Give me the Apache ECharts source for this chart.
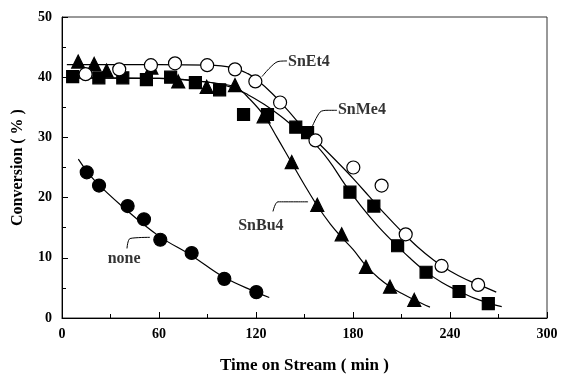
<!DOCTYPE html>
<html>
<head>
<meta charset="utf-8">
<script src="https://cdn.jsdelivr.net/npm/echarts@6/dist/echarts.min.js"></script>
<style>html,body{margin:0;padding:0;background:#fff;}#c{width:561px;height:379px;}</style>
</head>
<body>
<div id="c"></div>
<script>
// ---- data ----
const xTicks = [0, 60, 120, 180, 240, 300];
const yTicks = [0, 10, 20, 30, 40, 50];

const snEt4Points = [[14.6,40.5],[35.4,41.3],[55,42.0],[69.9,42.3],[89.8,42.0],[107,41.3],[119.6,39.3],[134.9,35.8],[156.8,29.5],[180.2,25.0],[197.7,22.0],[212.6,13.9],[234.8,8.65],[257.4,5.5]];
const snMe4Points = [[6.6,40.1],[22.8,39.9],[37.6,39.9],[52.2,39.6],[67.2,40.0],[82.5,39.1],[97.5,37.9],[112.3,33.8],[127.1,33.8],[144.6,31.7],[151.9,30.8],[178.1,20.9],[192.9,18.6],[207.6,12.0],[225.2,7.6],[245.6,4.4],[263.7,2.4]];
const snBu4Points = [[10,42.6],[19.9,42.2],[27.6,41.1],[55.3,41.6],[71.9,39.3],[89.5,38.4],[107,38.7],[124.7,33.5],[142.1,25.9],[157.9,18.8],[173,13.9],[188,8.5],[202.9,5.2],[217.9,3.0]];
const nonePoints = [[15.3,24.2],[22.9,22.0],[40.6,18.6],[50.7,16.4],[60.8,13.0],[80.2,10.8],[100.4,6.5],[120.2,4.3]];

const snEt4Curve = [[3,42.1],[60,42.1],[90,42.0],[105,41.6],[115,40.6],[120,39.7],[130,37.3],[140,34.4],[150,31.3],[160,28.7],[170,26.0],[180,23.2],[190,20.2],[200,17.2],[210,14.4],[220,11.8],[230,9.6],[240,7.8],[250,6.4],[260,5.3],[268.6,4.3]];
const snMe4Curve = [[3,39.9],[60,39.8],[90,39.2],[105,38.3],[115,37.1],[125,35.5],[135,33.6],[145,31.4],[155,29.3],[165,26.2],[175,22.2],[185,18.6],[195,15.4],[205,12.6],[215,10.0],[225,7.7],[235,5.9],[245,4.5],[255,3.3],[265,2.4],[272,1.9]];
const snBu4Curve = [[3,39.9],[60,39.8],[90,39.2],[100,38.8],[108,38.3],[116,36.4],[125,33.6],[133,30.0],[142,25.8],[150,22.1],[158,18.6],[166,15.6],[173,13.4],[180,11.4],[188,8.7],[196,6.6],[203,5.2],[210,4.1],[218,3.0],[227.6,1.8]];
const noneCurve = [[10.1,26.4],[20,22.9],[40,17.9],[60,13.6],[80,10.4],[100,6.8],[120,4.3],[128.2,3.4]];

const labelNames = ['SnEt4', 'SnMe4', 'SnBu4', 'none'];
const labelAt = [[139.8,42.6],[170.7,34.5],[123,15.3],[38.4,9.9]];
const leaderLines = [
  [[123.7,40.1],[128.7,41.6],[133.6,42.6],[139.2,42.7]],
  [[154.6,31.7],[159.6,34.2],[163.9,34.5],[170.1,34.5]],
  [[130.5,17.7],[133.6,19.3],[152.2,19.3]],
  [[40.2,11.55],[42.1,13.2],[54.4,13.4]]
];

// ---- chart ----
const font = '"Liberation Serif","Times New Roman",serif';
const chart = echarts.init(document.getElementById('c'), null, {renderer: 'canvas'});

function curve(data) {
  return {type: 'line', data: data, smooth: 0.4, showSymbol: false, symbol: 'none',
    lineStyle: {color: '#000', width: 1.2}, silent: true, z: 2, animation: false};
}
function points(data, symbol, size, fill) {
  return {type: 'scatter', data: data, symbol: symbol, symbolSize: size,
    itemStyle: {color: fill, borderColor: '#000', borderWidth: 1.2, opacity: 1}, z: 4, animation: false};
}

const series = [
  curve(snEt4Curve), curve(snMe4Curve), curve(snBu4Curve), curve(noneCurve),
  points(snMe4Points, 'rect', 12, '#000'),
  points(snBu4Points, 'triangle', 13, '#000'),
  points(snEt4Points, 'circle', 13, '#fff'),
  points(nonePoints, 'circle', 13, '#000')
];
leaderLines.forEach(function (l) {
  series.push({type: 'line', data: l, smooth: 0.3, symbol: 'none',
    lineStyle: {color: '#000', width: 1}, z: 3, animation: false});
});
const textSeries = {
  type: 'scatter', symbolSize: 0, z: 5, animation: false,
  data: labelAt.map(function (p, i) { return {value: p, name: labelNames[i]}; }),
  label: {show: true, formatter: '{b}', color: '#000', fontFamily: font, fontWeight: 'bold', fontSize: 16,
    position: 'inside', align: 'left'}
};
textSeries.data[2].label = {align: 'center'};
textSeries.data[3].label = {align: 'center'};
series.push(textSeries);

chart.setOption({
  animation: false,
  backgroundColor: '#fff',
  grid: {left: 62, right: 14, top: 17, bottom: 59, show: true, borderColor: '#333', borderWidth: 1, backgroundColor: 'transparent'},
  xAxis: {
    type: 'value', min: xTicks[0], max: xTicks[xTicks.length - 1], interval: 60,
    name: 'Time on Stream ( min )', nameLocation: 'middle', nameGap: 39,
    nameTextStyle: {fontFamily: font, fontWeight: 'bold', fontSize: 17, color: '#000'},
    axisLine: {show: true, lineStyle: {color: '#000', width: 1}},
    axisTick: {show: true, inside: true, length: 6, lineStyle: {color: '#000'}},
    minorTick: {show: true, splitNumber: 2, length: 4, lineStyle: {color: '#000'}},
    splitLine: {show: false},
    axisLabel: {fontFamily: font, fontWeight: 'bold', fontSize: 14, color: '#000', margin: 9}
  },
  yAxis: {
    type: 'value', min: yTicks[0], max: yTicks[yTicks.length - 1], interval: 10,
    name: 'Conversion ( % )', nameLocation: 'middle', nameGap: 36,
    nameTextStyle: {fontFamily: font, fontWeight: 'bold', fontSize: 16, color: '#000'},
    axisLine: {show: true, lineStyle: {color: '#000', width: 1}},
    axisTick: {show: true, inside: true, length: 6, lineStyle: {color: '#000'}},
    minorTick: {show: true, splitNumber: 2, length: 4, lineStyle: {color: '#000'}},
    splitLine: {show: false},
    axisLabel: {fontFamily: font, fontWeight: 'bold', fontSize: 14, color: '#000', margin: 10}
  },
  series: series
});
</script>
</body>
</html>
